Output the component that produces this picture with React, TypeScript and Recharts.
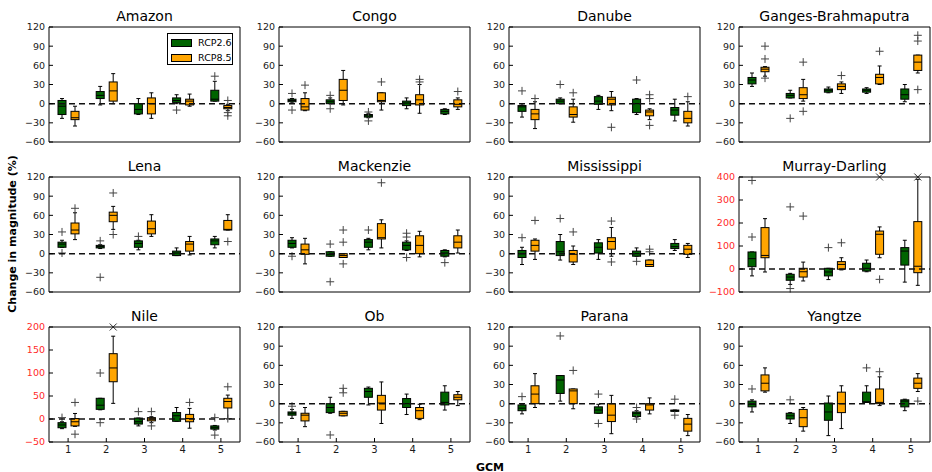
import React from "react";
import { Bar, ComposedChart, ReferenceLine, XAxis, YAxis } from "recharts";

// each box: [min, q1, median, q3, max, outliers]
type Box = [number, number, number, number, number, number[]];

const GCMS = [1, 2, 3, 4, 5];

const TICKS_STD = [-60, -30, 0, 30, 60, 90, 120];
const TICKS_MURRAY = [-100, 0, 100, 200, 300, 400];
const TICKS_NILE = [-50, 0, 50, 100, 150, 200];

const amazon26: Box[] = [
  [-23, -17, -4, 5, 8, []],
  [-2, 8, 13, 19, 27, []],
  [-17, -16, -9, 0, 8, []],
  [0, 2, 5, 9, 14, [-10]],
  [4, 4, 7, 21, 35, [43]],
];
const amazon85: Box[] = [
  [-35, -25, -22, -12, -4, []],
  [0, 4, 20, 34, 47, []],
  [-23, -16, 0, 9, 17, []],
  [-4, -2, 4, 7, 15, []],
  [-11, -8, -6, -3, -1, [5, -14, -19]],
];
const congo26: Box[] = [
  [1, 3, 5, 7, 8, [16, -10]],
  [0, 0, 3, 6, 9, [13, -8]],
  [-22, -21, -19, -17, -15, [-13, -27]],
  [-8, -3, 1, 4, 9, []],
  [-17, -16, -12, -9, -8, []],
];
const congo85: Box[] = [
  [-11, -10, -5, 8, 17, [29]],
  [-2, 5, 21, 38, 52, []],
  [-10, 3, 5, 17, 17, [34]],
  [-15, -2, 6, 14, 30, [38, 34]],
  [-9, -5, -1, 6, 9, [19]],
];
const danube26: Box[] = [
  [-21, -12, -5, -3, 0, [20]],
  [0, 0, 4, 7, 9, [30]],
  [-9, -1, 4, 11, 13, []],
  [-17, -14, 0, 7, 8, [37]],
  [-27, -18, -10, -6, 7, []],
];
const danube85: Box[] = [
  [-39, -25, -16, -9, 3, [8]],
  [-29, -21, -17, -5, 7, [17]],
  [-11, -2, 7, 10, 19, [-37]],
  [-25, -19, -13, -10, -8, [14, 8, -34]],
  [-35, -30, -23, -12, 3, [11]],
];
const ganges26: Box[] = [
  [27, 31, 37, 41, 48, []],
  [9, 9, 13, 16, 21, [-23]],
  [17, 18, 21, 23, 26, []],
  [16, 18, 21, 23, 25, []],
  [3, 7, 14, 23, 30, []],
];
const ganges85: Box[] = [
  [43, 50, 54, 57, 58, [90, 70, 40]],
  [4, 8, 14, 25, 38, [65, -12]],
  [16, 22, 27, 31, 34, [44]],
  [30, 31, 41, 46, 59, [82]],
  [48, 52, 65, 76, 76, [107, 98, 22]],
];
const lena26: Box[] = [
  [10, 10, 15, 18, 21, [34, 1]],
  [8, 9, 11, 13, 14, [20, -37]],
  [6, 10, 16, 20, 21, [27]],
  [-3, -3, 1, 4, 9, []],
  [9, 14, 20, 23, 27, []],
];
const lena85: Box[] = [
  [22, 31, 37, 48, 64, [71]],
  [38, 50, 60, 65, 74, [95, 30]],
  [27, 31, 39, 51, 61, []],
  [-2, 4, 15, 19, 27, []],
  [37, 37, 38, 52, 61, [19]],
];
const mackenzie26: Box[] = [
  [9, 10, 16, 21, 25, [-4]],
  [-4, -4, -1, 3, 3, [15, -44]],
  [6, 10, 18, 22, 24, [37]],
  [5, 6, 13, 18, 20, [32, 26, -6]],
  [-5, -4, 1, 5, 6, [-14]],
];
const mackenzie85: Box[] = [
  [-16, -1, 6, 15, 24, []],
  [-6, -6, -3, 0, 0, [37, 18, -16]],
  [9, 23, 25, 47, 53, [111]],
  [-5, 0, 13, 28, 35, []],
  [1, 9, 18, 28, 37, []],
];
const mississippi26: Box[] = [
  [-17, -6, 0, 5, 10, [25]],
  [-10, -3, 3, 19, 30, [55]],
  [-9, 1, 10, 17, 22, []],
  [-4, -4, 0, 4, 9, [-12]],
  [5, 8, 11, 16, 22, []],
];
const mississippi85: Box[] = [
  [-9, 4, 13, 21, 23, [52]],
  [-17, -13, -1, 5, 12, [34]],
  [-4, 7, 19, 25, 41, [51, -13]],
  [-20, -20, -17, -10, -10, [7, 3]],
  [-6, -1, 7, 13, 16, []],
];
const murray26: Box[] = [
  [-30, 10, 45, 74, 74, [139, 385]],
  [-67, -49, -35, -23, -19, [270, -85]],
  [-46, -30, -13, 3, 3, [93]],
  [-12, -9, 3, 25, 39, []],
  [-57, 17, 78, 93, 125, []],
];
const murray85: Box[] = [
  [-13, 49, 59, 180, 219, []],
  [-52, -35, -12, 3, 30, [230]],
  [-4, -1, 20, 32, 49, [114]],
  [49, 64, 151, 165, 183, [400, -45]],
  [-71, -16, 12, 206, 390, [400]],
];
const nile26: Box[] = [
  [-21, -19, -13, -8, -6, [3]],
  [20, 21, 30, 45, 45, [100, -8]],
  [-15, -11, -6, 2, 2, [16]],
  [-5, -5, 7, 14, 25, []],
  [-24, -22, -19, -15, -14, [3, -35]],
];
const nile85: Box[] = [
  [-16, -15, -6, 1, 12, [36, -33]],
  [34, 81, 111, 142, 180, [200]],
  [-8, -4, 0, 3, 5, [16, -15]],
  [-20, -6, 1, 10, 23, [36]],
  [0, 24, 38, 45, 52, [70, 1]],
];
const ob26: Box[] = [
  [-23, -18, -15, -13, -9, [-4]],
  [-15, -14, -6, 0, 10, [-49]],
  [-2, 10, 19, 24, 26, []],
  [-17, -6, 0, 8, 15, []],
  [-10, -2, 2, 18, 28, []],
];
const ob85: Box[] = [
  [-36, -27, -18, -15, -6, []],
  [-19, -19, -15, -12, -12, [24, 17]],
  [-31, -10, 1, 13, 34, []],
  [-25, -23, -11, -6, -1, []],
  [-3, 6, 10, 14, 19, []],
];
const parana26: Box[] = [
  [-16, -11, -7, -2, -2, [11]],
  [4, 16, 37, 44, 44, [106]],
  [-15, -15, -10, -5, -1, [15, -31]],
  [-21, -20, -15, -13, -11, [-6, -24]],
  [-12, -12, -11, -10, -10, [7, -18]],
];
const parana85: Box[] = [
  [-6, 0, 15, 28, 47, []],
  [-8, 0, 20, 23, 23, [52]],
  [-47, -28, -18, 0, 13, []],
  [-16, -10, -2, 0, 9, []],
  [-50, -43, -32, -23, -17, []],
];
const yangtze26: Box[] = [
  [-13, -5, -1, 4, 6, [23]],
  [-31, -24, -19, -15, -14, [6]],
  [-50, -26, -13, 1, 12, []],
  [2, 2, 3, 18, 28, [56]],
  [-11, -5, 4, 6, 7, []],
];
const yangtze85: Box[] = [
  [18, 20, 32, 45, 56, []],
  [-43, -36, -22, -9, -6, []],
  [-39, -14, 0, 18, 28, []],
  [-3, 0, 2, 23, 42, [50]],
  [19, 24, 32, 40, 47, [4]],
];

const GREEN = "#006400";
const ORANGE = "#ffa500";
const INK = "#1a1a1a";
const RED = "#ff2a2a";
const FONT = "'DejaVu Sans', sans-serif";

const panels = [
  { name: "Amazon", rcp26: amazon26, rcp85: amazon85, ticks: TICKS_STD, red: false },
  { name: "Congo", rcp26: congo26, rcp85: congo85, ticks: TICKS_STD, red: false },
  { name: "Danube", rcp26: danube26, rcp85: danube85, ticks: TICKS_STD, red: false },
  { name: "Ganges-Brahmaputra", rcp26: ganges26, rcp85: ganges85, ticks: TICKS_STD, red: false },
  { name: "Lena", rcp26: lena26, rcp85: lena85, ticks: TICKS_STD, red: false },
  { name: "Mackenzie", rcp26: mackenzie26, rcp85: mackenzie85, ticks: TICKS_STD, red: false },
  { name: "Mississippi", rcp26: mississippi26, rcp85: mississippi85, ticks: TICKS_STD, red: false },
  { name: "Murray-Darling", rcp26: murray26, rcp85: murray85, ticks: TICKS_MURRAY, red: true },
  { name: "Nile", rcp26: nile26, rcp85: nile85, ticks: TICKS_NILE, red: true },
  { name: "Ob", rcp26: ob26, rcp85: ob85, ticks: TICKS_STD, red: false },
  { name: "Parana", rcp26: parana26, rcp85: parana85, ticks: TICKS_STD, red: false },
  { name: "Yangtze", rcp26: yangtze26, rcp85: yangtze85, ticks: TICKS_STD, red: false },
];

const span = (b: Box): [number, number] => {
  const all = [b[0], b[4], ...b[5]];
  return [Math.min(...all), Math.max(...all)];
};

const fmt = (v: number) => (v < 0 ? "\u2212" + Math.abs(v) : String(v));

// the bar gets the pixel range of [lowest, highest] value; everything else is placed inside it
const BoxShape = (props: any) => {
  const { x, y, width, height, box, color, top } = props;
  const [min, q1, med, q3, max, out] = box as Box;
  const [lo, hi] = span(box);
  const py = (v: number) => (hi === lo ? y : y + ((hi - v) / (hi - lo)) * height);
  const cx = x + width / 2;
  const cap = width / 4;
  return (
    <g>
      <line x1={cx} x2={cx} y1={py(max)} y2={py(q3)} stroke="#000" />
      <line x1={cx} x2={cx} y1={py(q1)} y2={py(min)} stroke="#000" />
      <line x1={cx - cap} x2={cx + cap} y1={py(max)} y2={py(max)} stroke="#000" />
      <line x1={cx - cap} x2={cx + cap} y1={py(min)} y2={py(min)} stroke="#000" />
      <rect x={x} y={py(q3)} width={width} height={Math.max(py(q1) - py(q3), 1)} fill={color} stroke="#000" />
      <line x1={x} x2={x + width} y1={py(med)} y2={py(med)} stroke="#000" />
      {out.map((v, i) => {
        const oy = py(v);
        return v >= top ? (
          <path key={i} d={`M${cx - 3.5},${oy - 3.5}L${cx + 3.5},${oy + 3.5}M${cx - 3.5},${oy + 3.5}L${cx + 3.5},${oy - 3.5}`} stroke="#333" />
        ) : (
          <path key={i} d={`M${cx - 4},${oy}L${cx + 4},${oy}M${cx},${oy - 4}L${cx},${oy + 4}`} stroke="#444" />
        );
      })}
    </g>
  );
};

const Panel = ({ p, idx }: { p: (typeof panels)[number]; idx: number }) => {
  const col = idx % 4;
  const row = Math.floor(idx / 4);
  const last = row === 2;
  const rows = GCMS.map((g, i) => ({ gcm: g, rcp26: p.rcp26[i], rcp85: p.rcp85[i] }));
  const domain: [number, number] = [p.ticks[0], p.ticks[p.ticks.length - 1]];
  const axisStroke = { stroke: "#000" };
  return (
    <div style={{ position: "absolute", left: col * 230, top: row * 150 }}>
      <div
        style={{
          position: "absolute", left: 49, top: 8, width: 191, textAlign: "center",
          fontFamily: FONT, fontSize: 14, lineHeight: "16px", color: "#000",
        }}
      >
        {p.name}
      </div>
      <ComposedChart width={241} height={162} data={rows} margin={{ top: 26, right: 0, bottom: 0, left: 0 }} barSize={8} barGap={5}>
        <XAxis
          dataKey="gcm" type="number" domain={[0.5, 5.5]} ticks={GCMS} interval={0} height={20}
          tickSize={-4} tickMargin={8} axisLine={axisStroke} tickLine={axisStroke}
          tick={last ? { fontSize: 10, fill: INK, fontFamily: FONT } : false}
        />
        <XAxis
          xAxisId="top" orientation="top" dataKey="gcm" type="number" domain={[0.5, 5.5]} ticks={GCMS}
          interval={0} height={1} tickSize={-4} axisLine={axisStroke} tickLine={axisStroke} tick={false}
        />
        <YAxis
          type="number" domain={domain} ticks={p.ticks} interval={0} width={49} tickSize={-4} tickMargin={8}
          tickFormatter={fmt} axisLine={axisStroke} tickLine={axisStroke}
          tick={{ fontSize: 9.5, fill: p.red ? RED : INK, fontFamily: FONT }}
        />
        <YAxis
          yAxisId="right" orientation="right" type="number" domain={domain} ticks={p.ticks} interval={0}
          width={1} tickSize={-4} axisLine={axisStroke} tickLine={axisStroke} tick={false}
        />
        <ReferenceLine y={0} stroke="#111" strokeWidth={1.5} strokeDasharray="6 4" />
        <Bar
          dataKey={(d: any) => span(d.rcp26)} isAnimationActive={false} fill={GREEN}
          shape={(s: any) => <BoxShape {...s} box={s.payload.rcp26} color={GREEN} top={domain[1]} />}
        />
        <Bar
          dataKey={(d: any) => span(d.rcp85)} isAnimationActive={false} fill={ORANGE}
          shape={(s: any) => <BoxShape {...s} box={s.payload.rcp85} color={ORANGE} top={domain[1]} />}
        />
      </ComposedChart>
    </div>
  );
};

const LegendBox = () => (
  <div
    style={{
      position: "absolute", left: 167, top: 33, width: 64, height: 30, border: "1px solid #000",
      background: "#fff", fontFamily: FONT, fontSize: 9.5, color: "#000",
    }}
  >
    {[["RCP2.6", GREEN], ["RCP8.5", ORANGE]].map(([label, c], i) => (
      <div key={label} style={{ position: "absolute", left: 3, top: 4 + i * 15, display: "flex", alignItems: "center" }}>
        <span style={{ display: "inline-block", width: 19, height: 6, background: c, border: "1px solid #000" }} />
        <span style={{ marginLeft: 6, lineHeight: "9px" }}>{label}</span>
      </div>
    ))}
  </div>
);

export default function App() {
  return (
    <div style={{ position: "absolute", left: 0, top: 0, width: 932, height: 472, background: "#fff", overflow: "hidden" }}>
      {panels.map((p, i) => (
        <Panel key={p.name} p={p} idx={i} />
      ))}
      <LegendBox />
      <div
        style={{
          position: "absolute", left: 12, top: 234, transform: "translate(-50%, -50%) rotate(-90deg)",
          whiteSpace: "nowrap", fontFamily: FONT, fontWeight: "bold", fontSize: 11, color: "#000",
        }}
      >
        Change in magnitude (%)
      </div>
      <div
        style={{
          position: "absolute", left: 490, top: 467, transform: "translate(-50%, -50%)",
          fontFamily: FONT, fontWeight: "bold", fontSize: 11, color: "#000",
        }}
      >
        GCM
      </div>
    </div>
  );
}
